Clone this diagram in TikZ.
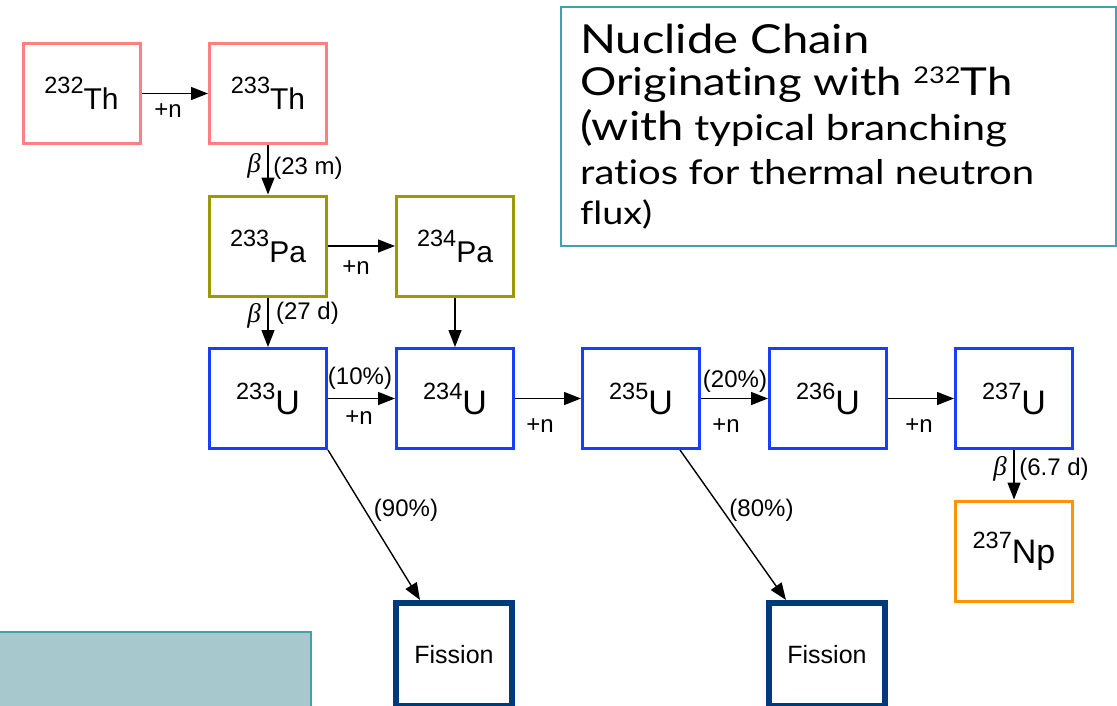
\documentclass[tikz,border=0pt]{standalone}
\usepackage{fontspec}
\setmainfont{Liberation Sans}
\newfontfamily\titlefont[Ligatures=NoCommon,FakeStretch=1.18]{Lato}
\newfontfamily\betafont{Liberation Serif}
\usetikzlibrary{arrows.meta,calc}
\definecolor{thcol}{RGB}{255,128,128}
\definecolor{pacol}{RGB}{153,153,0}
\definecolor{ucol}{RGB}{25,60,255}
\definecolor{npcol}{RGB}{255,147,0}
\definecolor{fiscol}{RGB}{0,58,122}
\definecolor{tealcol}{RGB}{64,162,174}
\definecolor{notefill}{RGB}{167,201,206}
\newcommand\nucl[4]{\raisebox{#4pt}{\fontsize{23.5}{23.5}\selectfont #1}{\fontsize{#3}{#3}\selectfont #2}}
\begin{document}
\begin{tikzpicture}[x=1pt,y=-1pt,
  nucbox/.style={draw, line width=3pt, minimum width=117pt, minimum height=100pt, inner sep=0pt, fill=white},
  fisbox/.style={draw=fiscol, line width=6pt, minimum width=116pt, minimum height=103pt, inner sep=0pt, fill=white, font=\fontsize{25}{25}\selectfont},
  arr/.style={line width=1.4pt, -{Triangle[length=17pt,width=13pt]}},
  lbl/.style={inner sep=0pt, font=\fontsize{24}{24}\selectfont},
  betalbl/.style={inner sep=0pt, font=\betafont\itshape\fontsize{27}{27}\selectfont},
  tline/.style={anchor=base west, inner sep=0pt}]
\clip (0,0) rectangle (1117,705);
\fill[white] (0,0) rectangle (1117,705);
% note box (bottom left, cut off)
\path[fill=notefill, draw=tealcol, line width=2pt] (-10,632) rectangle (311,720);
% title box
\node[draw=tealcol, line width=2pt, minimum width=555pt, minimum height=239pt, inner sep=0pt, anchor=north west] (titlebox) at (560,6) {};
\node[tline, font=\titlefont\fontsize{40}{40}\selectfont] (tl1) at (580,53) {Nuclide Chain};
\node[tline, font=\titlefont\fontsize{38.5}{38.5}\selectfont] (tl2) at (580,95) {Originating with \raisebox{12pt}{\fontsize{23}{23}\selectfont 232}Th};
\node[tline, font=\titlefont\fontsize{35.5}{35.5}\selectfont] (tl3) at (580,140) {{\fontsize{40}{40}\selectfont (with} typical branching};
\node[tline, font=\titlefont\fontsize{34}{34}\selectfont] (tl4) at (580,184) {ratios for thermal neutron};
\node[tline, font=\titlefont\fontsize{32}{32}\selectfont] (tl5) at (580,224) {flux)};
% nuclide boxes
\node[nucbox, draw=thcol] (th232) at (81.5,93.5) {\nucl{232}{Th}{30}{16}};
\node[nucbox, draw=thcol] (th233) at (268,93.5) {\nucl{233}{Th}{30}{16}};
\node[nucbox, draw=pacol] (pa233) at (268,246) {\nucl{233}{Pa}{30}{16}};
\node[nucbox, draw=pacol] (pa234) at (455,246) {\nucl{234}{Pa}{30}{16}};
\node[nucbox, draw=ucol] (u233) at (268,398.5) {\nucl{233}{U}{34}{15}};
\node[nucbox, draw=ucol] (u234) at (455,398.5) {\nucl{234}{U}{34}{15}};
\node[nucbox, draw=ucol] (u235) at (641,398.5) {\nucl{235}{U}{34}{15}};
\node[nucbox, draw=ucol] (u236) at (828,398.5) {\nucl{236}{U}{34}{15}};
\node[nucbox, draw=ucol] (u237) at (1014,398.5) {\nucl{237}{U}{34}{15}};
\node[nucbox, draw=npcol] (np237) at (1014,551) {\nucl{237}{Np}{34}{15}};
\node[fisbox] (fis1) at (454,654.5) {Fission};
\node[fisbox] (fis2) at (827,654.5) {Fission};
% connectors
\draw[arr] (th232) -- (th233);
\draw[arr] (th233) -- (pa233);
\draw[arr] (pa233) -- (pa234);
\draw[arr] (pa233) -- (u233);
\draw[arr] (pa234) -- (u234);
\draw[arr] (u233) -- (u234);
\draw[arr] (u234) -- (u235);
\draw[arr] (u235) -- (u236);
\draw[arr] (u236) -- (u237);
\draw[arr] (u237) -- (np237);
\draw[arr] (u233.south east) -- ([xshift=-34pt]fis1.north);
\draw[arr] ([xshift=39pt]u235.south) -- ([xshift=-41pt]fis2.north);
% labels
\node[lbl] (n1) at (168,111) {+n};
\node[betalbl] (b1) at (254,166) {β};
\node[lbl] (d1) at (308,168) {(23 m)};
\node[lbl] (n2) at (356,268) {+n};
\node[betalbl] (b2) at (254,316) {β};
\node[lbl] (d2) at (307.5,313) {(27 d)};
\node[lbl] (p10) at (360,378) {(10\%)};
\node[lbl] (n3) at (359,418) {+n};
\node[lbl] (n4) at (540,426) {+n};
\node[lbl] (p20) at (735,381) {(20\%)};
\node[lbl] (n5) at (726,425.5) {+n};
\node[lbl] (n6) at (919,425.5) {+n};
\node[betalbl] (b3) at (1000,469) {β};
\node[lbl] (d3) at (1054,469) {(6.7 d)};
\node[lbl] (p90) at (406,510) {(90\%)};
\node[lbl] (p80) at (761.5,510) {(80\%)};
\end{tikzpicture}
\end{document}
